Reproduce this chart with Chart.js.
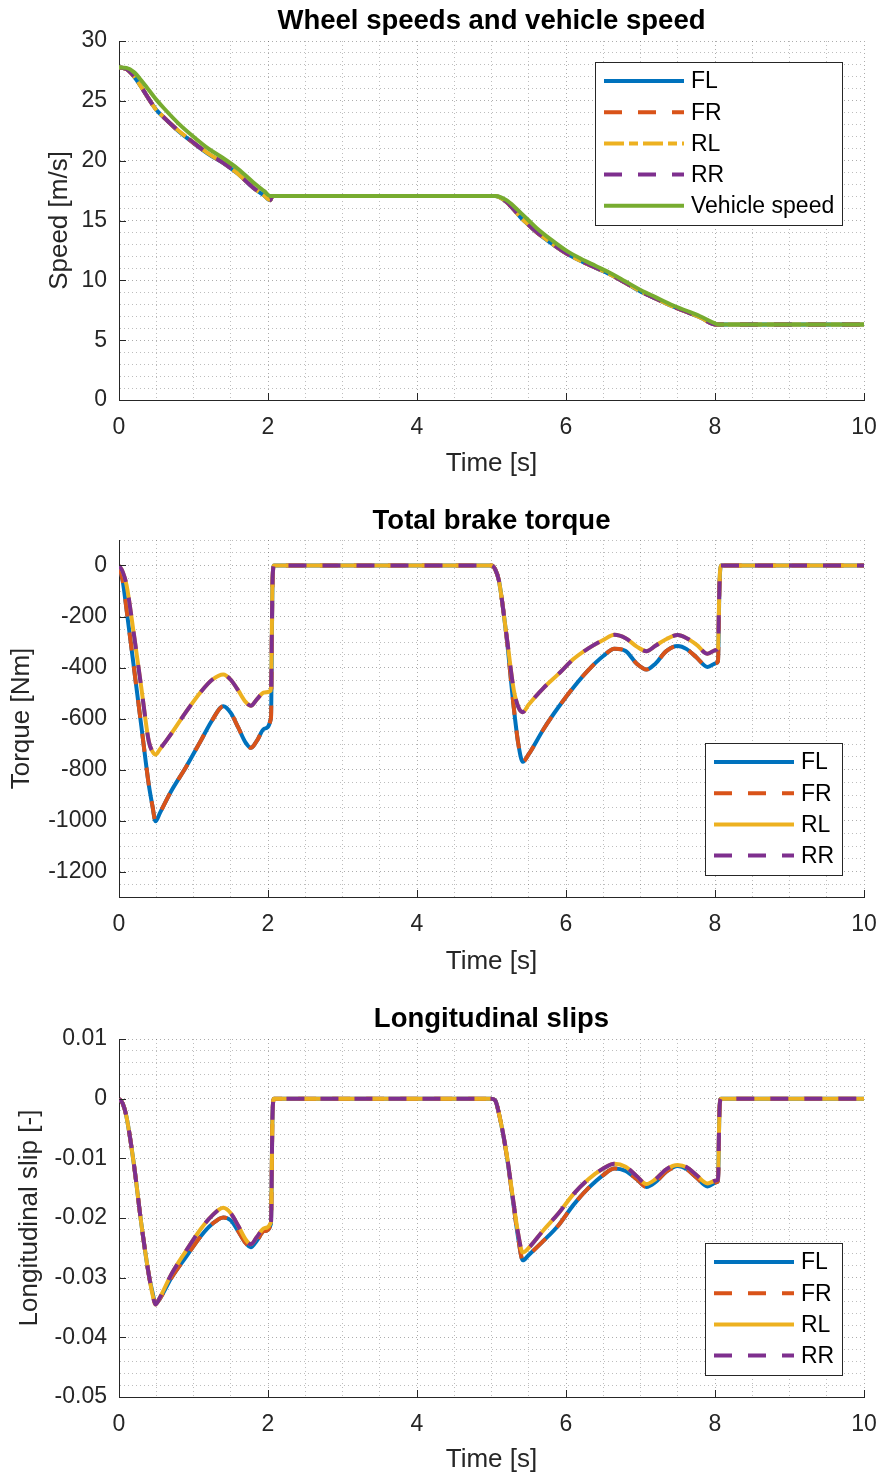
<!DOCTYPE html>
<html><head><meta charset="utf-8">
<script src="https://cdn.jsdelivr.net/npm/chart.js@4/dist/chart.umd.min.js"></script>
<style>
html,body{margin:0;padding:0;background:#fff;}
#wrap{position:relative;width:885px;height:1477px;background:#fff;}
canvas{position:absolute;left:0;}
</style></head><body>
<div id="wrap">
<canvas id="c1" width="885" height="490" style="top:0px"></canvas>
<canvas id="c2" width="885" height="500" style="top:490px"></canvas>
<canvas id="c3" width="885" height="487" style="top:990px"></canvas>
</div>
<script>
// ---------- data ----------
const TIME_SPEED = [0,0.1,0.2,0.3,0.4,0.5,0.6,0.8,1.0,1.2,1.4,1.6,1.8,1.95,2.03,2.06,3,4,5.05,5.1,5.2,5.3,5.4,5.5,5.6,5.8,6.0,6.2,6.4,6.6,6.8,7.0,7.2,7.4,7.6,7.8,8.0,8.05,9,10];
const SPEED_VEHICLE = [27.8,27.75,27.4,26.7,25.9,25.1,24.4,23.1,22.0,21.0,20.2,19.3,18.2,17.45,17.05,17.05,17.05,17.05,17.05,17.0,16.7,16.2,15.6,15.0,14.4,13.4,12.5,11.8,11.2,10.6,9.9,9.2,8.6,8.0,7.5,7.0,6.4,6.3,6.3,6.3];
const SPEED_FL = [27.8,27.65,27.04,26.14,25.15,24.25,23.62,22.45,21.47,20.56,19.80,18.88,17.75,17.07,16.69,17.05,17.05,17.05,17.05,16.97,16.55,15.91,15.19,14.61,14.04,13.11,12.26,11.61,11.04,10.47,9.78,9.07,8.49,7.90,7.41,6.90,6.31,6.3,6.3,6.3];
const SPEED_FR = [27.8,27.66,27.05,26.15,25.16,24.24,23.63,22.46,21.48,20.57,19.81,18.89,17.76,17.08,16.70,17.05,17.05,17.05,17.05,16.97,16.55,15.91,15.19,14.62,14.05,13.12,12.27,11.61,11.05,10.47,9.78,9.07,8.49,7.90,7.41,6.90,6.31,6.3,6.3,6.3];
const SPEED_RL = [27.8,27.66,27.06,26.15,25.16,24.24,23.64,22.50,21.53,20.59,19.83,18.89,17.76,17.07,16.70,17.05,17.05,17.05,17.05,16.97,16.56,15.92,15.21,14.63,14.08,13.13,12.28,11.62,11.06,10.48,9.79,9.08,8.49,7.91,7.42,6.90,6.31,6.3,6.3,6.3];
const SPEED_RR = [27.8,27.66,27.06,26.15,25.16,24.23,23.63,22.49,21.52,20.58,19.82,18.88,17.75,17.07,16.70,17.05,17.05,17.05,17.05,16.97,16.56,15.92,15.21,14.63,14.08,13.13,12.28,11.62,11.06,10.48,9.79,9.08,8.49,7.91,7.42,6.90,6.31,6.3,6.3,6.3];

const TIME_BRAKE = [0,0.05,0.1,0.2,0.3,0.4,0.45,0.49,0.55,0.7,0.9,1.1,1.25,1.4,1.5,1.6,1.7,1.77,1.85,1.95,2.04,2.06,2.08,3,4,5.0,5.05,5.1,5.2,5.3,5.36,5.42,5.5,5.7,5.9,6.1,6.3,6.5,6.65,6.8,6.95,7.08,7.2,7.35,7.5,7.62,7.75,7.9,8.02,8.04,8.06,8.08,9,10];
const TORQUE_FRONT = [0,-60,-170,-400,-630,-860,-945,-1003,-970,-885,-790,-686,-607,-552,-578,-635,-695,-715,-688,-640,-598,-80,0,0,0,0,-15,-60,-275,-560,-700,-770,-740,-641,-555,-478,-410,-355,-326,-335,-385,-408,-385,-335,-316,-328,-360,-398,-382,-375,-80,0,0,0];
const TORQUE_REAR = [0,-25,-75,-270,-480,-690,-730,-742,-720,-660,-574,-495,-448,-427,-448,-490,-535,-550,-525,-498,-490,-70,0,0,0,0,-15,-60,-270,-490,-555,-575,-545,-480,-425,-367,-325,-292,-272,-285,-318,-336,-315,-288,-273,-285,-310,-346,-330,-325,-70,0,0,0];
const SLIP_FRONT = [0,-0.0008,-0.003,-0.011,-0.021,-0.0295,-0.0325,-0.0343,-0.0335,-0.0301,-0.0265,-0.0230,-0.0210,-0.0199,-0.0204,-0.0222,-0.0242,-0.0249,-0.0238,-0.0222,-0.0210,-0.003,0,0,0,0,-0.0003,-0.0025,-0.0092,-0.0182,-0.0235,-0.0271,-0.0262,-0.0238,-0.0212,-0.0178,-0.0150,-0.0128,-0.0117,-0.0121,-0.0135,-0.0148,-0.0140,-0.0122,-0.0113,-0.0118,-0.0132,-0.0147,-0.0140,-0.0138,-0.002,0,0,0];
const SLIP_REAR = [0,-0.0008,-0.003,-0.011,-0.021,-0.0295,-0.0328,-0.0345,-0.0333,-0.0295,-0.0255,-0.0218,-0.0196,-0.0183,-0.0192,-0.0213,-0.0236,-0.0244,-0.0232,-0.0217,-0.0207,-0.003,0,0,0,0,-0.0003,-0.0025,-0.0090,-0.0178,-0.0228,-0.0258,-0.0250,-0.0220,-0.0192,-0.0160,-0.0135,-0.0117,-0.0109,-0.0114,-0.0130,-0.0143,-0.0135,-0.0118,-0.0111,-0.0115,-0.0128,-0.0142,-0.0137,-0.0136,-0.002,0,0,0];

const X_TICKS = [0,2,4,6,8,10];
const Y_TICKS_SPEED = [0,5,10,15,20,25,30];
const Y_TICKS_TORQUE = [-1200,-1000,-800,-600,-400,-200,0];
const Y_TICKS_SLIP = [-0.05,-0.04,-0.03,-0.02,-0.01,0,0.01];

// ---------- styling ----------
const FONT = "'Liberation Sans', Arial, Helvetica, sans-serif";
const TXT = '#262626';
const C_FL = '#0072BD', C_FR = '#D95319', C_RL = '#EDB120', C_RR = '#7E2F8E', C_VEH = '#77AC30';
const LW = 4;
const DASH = [18,16];
const DASHDOT = [20,5,9,5];

function gridValues(min, max, step) {
  const n = Math.round((max - min) / step);
  const out = [];
  for (let k = 0; k <= n; k++) out.push(+(min + k * step).toFixed(6));
  return out;
}
function isMajor(v, majors) { return majors.some(m => Math.abs(m - v) < 1e-9); }
function series(t, y) { return t.map((x, i) => ({x: x, y: y[i]})); }

const inwardTicks = {
  id: 'inwardTicks',
  afterDatasetsDraw(chart, args, o) {
    const {ctx, chartArea: a, scales} = chart;
    ctx.save();
    ctx.strokeStyle = TXT; ctx.lineWidth = 1; ctx.setLineDash([]);
    ctx.beginPath();
    o.xMajor.forEach(v => { const p = Math.round(scales.x.getPixelForValue(v)) + 0.5; ctx.moveTo(p, a.bottom); ctx.lineTo(p, a.bottom - 7); });
    o.yMajor.forEach(v => { const p = Math.round(scales.y.getPixelForValue(v)) + 0.5; ctx.moveTo(a.left, p); ctx.lineTo(a.left + 7, p); });
    ctx.stroke();
    ctx.restore();
  }
};

const boxLegend = {
  id: 'boxLegend',
  afterDraw(chart, args, o) {
    const {ctx, chartArea: a} = chart;
    const ds = chart.data.datasets;
    ctx.save();
    ctx.font = '23px ' + FONT;
    const tw = Math.max(...ds.map(d => ctx.measureText(d.label).width));
    const w = Math.round(9 + 80 + 7 + tw + 8);
    const rowH = 31.2, padY = 19;
    const h = Math.round(padY * 2 + (ds.length - 1) * rowH);
    const right = Math.round(a.right - 22);
    const left = right - w;
    const top = Math.round(o.corner === 'ne' ? a.top + 21 : a.bottom - 22 - h);
    ctx.fillStyle = '#fff'; ctx.fillRect(left, top, w, h);
    ctx.strokeStyle = TXT; ctx.lineWidth = 1; ctx.setLineDash([]);
    ctx.strokeRect(left + 0.5, top + 0.5, w, h);
    ds.forEach((d, i) => {
      const cy = top + padY + i * rowH;
      ctx.strokeStyle = d.borderColor; ctx.lineWidth = d.borderWidth; ctx.lineCap = 'butt';
      ctx.setLineDash(d.borderDash || []);
      ctx.beginPath(); ctx.moveTo(left + 9, cy); ctx.lineTo(left + 89, cy); ctx.stroke();
      ctx.setLineDash([]);
      ctx.fillStyle = '#000'; ctx.textBaseline = 'middle'; ctx.textAlign = 'left';
      ctx.fillText(d.label, left + 96, cy + 1);
    });
    ctx.restore();
  }
};

function makeChart(id, cfg) {
  const xGrid = gridValues(0, 10, 0.5);
  const yGrid = gridValues(cfg.yMin, cfg.yMax, cfg.yStep);
  const gridColor = (majors) => (c) => (c.tick && isMajor(c.tick.value, majors)) ? 'rgba(38,38,38,0.38)' : 'rgba(38,38,38,0.30)';
  return new Chart(document.getElementById(id), {
    type: 'line',
    data: {datasets: cfg.datasets},
    options: {
      responsive: false, animation: false, devicePixelRatio: 1,
      layout: {padding: {left: 0, right: 21, top: 0, bottom: 0}},
      elements: {point: {radius: 0}, line: {cubicInterpolationMode: 'monotone', borderCapStyle: 'butt', borderJoinStyle: 'round'}},
      scales: {
        x: {
          type: 'linear', min: 0, max: 10, bounds: 'data',
          afterBuildTicks: s => { s.ticks = xGrid.map(v => ({value: v})); },
          afterFit: s => { s.height = cfg.xAxisH; s.paddingLeft = 0; s.paddingRight = 0; },
          ticks: {autoSkip: false, maxRotation: 0, minRotation: 0, padding: 14, color: TXT,
                  font: {size: 23, family: FONT}, callback: v => isMajor(v, X_TICKS) ? String(v) : ''},
          grid: {color: gridColor(X_TICKS), lineWidth: 1, drawTicks: false},
          border: {display: true, color: TXT, width: 1, dash: [1, 3]},
          title: {display: true, text: 'Time [s]', color: TXT, font: {size: 26, family: FONT, lineHeight: 1},
                  padding: {top: 0, bottom: cfg.xTitlePad}}
        },
        y: {
          type: 'linear', min: cfg.yMin, max: cfg.yMax, bounds: 'data',
          afterBuildTicks: s => { s.ticks = yGrid.map(v => ({value: v})); },
          afterFit: s => { s.width = 119; },
          ticks: {autoSkip: false, padding: 12, color: TXT, font: {size: 23, family: FONT},
                  callback: v => isMajor(v, cfg.yMajor) ? String(cfg.yMajor.find(m => Math.abs(m - v) < 1e-9)) : ''},
          grid: {color: gridColor(cfg.yMajor), lineWidth: 1, drawTicks: false},
          border: {display: true, color: TXT, width: 1, dash: [1, 3]},
          title: {display: true, text: cfg.yTitle, color: TXT, font: {size: 26, family: FONT, lineHeight: 1},
                  padding: {top: cfg.yTitlePad, bottom: 0}}
        }
      },
      plugins: {
        legend: {display: false}, tooltip: {enabled: false},
        title: {display: true, text: cfg.title, fullSize: false, color: '#000',
                font: {size: 27.5, weight: 'bold', family: FONT, lineHeight: 1},
                padding: {top: cfg.tPadTop, bottom: cfg.tPadBot}},
        inwardTicks: {xMajor: X_TICKS, yMajor: cfg.yMajor},
        boxLegend: {corner: cfg.legendCorner}
      }
    },
    plugins: [inwardTicks, boxLegend]
  });
}

function ds(label, t, y, color, dash, order) {
  return {label: label, data: series(t, y), borderColor: color, backgroundColor: color,
          borderWidth: LW, borderDash: dash, fill: false, order: order};
}

makeChart('c1', {
  title: 'Wheel speeds and vehicle speed', yTitle: 'Speed [m/s]',
  yMin: 0, yMax: 30, yStep: 1, yMajor: Y_TICKS_SPEED,
  xAxisH: 90, xTitlePad: 13, yTitlePad: 47, tPadTop: 8, tPadBot: 5.5, legendCorner: 'ne',
  datasets: [
    ds('FL', TIME_SPEED, SPEED_FL, C_FL, [], 4),
    ds('FR', TIME_SPEED, SPEED_FR, C_FR, DASH, 3),
    ds('RL', TIME_SPEED, SPEED_RL, C_RL, DASHDOT, 2),
    ds('RR', TIME_SPEED, SPEED_RR, C_RR, DASH, 1),
    ds('Vehicle speed', TIME_SPEED, SPEED_VEHICLE, C_VEH, [], 0)
  ]
});

makeChart('c2', {
  title: 'Total brake torque', yTitle: 'Torque [Nm]',
  yMin: -1300, yMax: 100, yStep: 50, yMajor: Y_TICKS_TORQUE,
  xAxisH: 93, xTitlePad: 15, yTitlePad: 9, tPadTop: 18, tPadBot: 4.5, legendCorner: 'se',
  datasets: [
    ds('FL', TIME_BRAKE, TORQUE_FRONT, C_FL, [], 3),
    ds('FR', TIME_BRAKE, TORQUE_FRONT, C_FR, DASH, 2),
    ds('RL', TIME_BRAKE, TORQUE_REAR, C_RL, [], 1),
    ds('RR', TIME_BRAKE, TORQUE_REAR, C_RR, DASH, 0)
  ]
});

makeChart('c3', {
  title: 'Longitudinal slips', yTitle: 'Longitudinal slip [-]',
  yMin: -0.05, yMax: 0.01, yStep: 0.002, yMajor: Y_TICKS_SLIP,
  xAxisH: 80, xTitlePad: 4, yTitlePad: 17, tPadTop: 16, tPadBot: 5.5, legendCorner: 'se',
  datasets: [
    ds('FL', TIME_BRAKE, SLIP_FRONT, C_FL, [], 3),
    ds('FR', TIME_BRAKE, SLIP_FRONT, C_FR, DASH, 2),
    ds('RL', TIME_BRAKE, SLIP_REAR, C_RL, [], 1),
    ds('RR', TIME_BRAKE, SLIP_REAR, C_RR, DASH, 0)
  ]
});
</script>
</body></html>
